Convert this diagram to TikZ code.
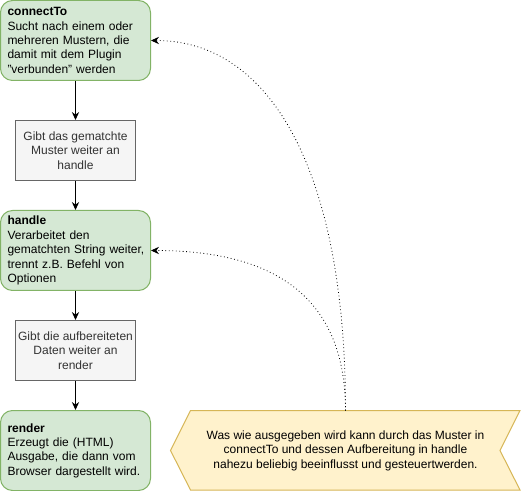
\documentclass[tikz,border=0pt]{standalone}
\usepackage{fontspec}
\setmainfont{Liberation Sans}
\usetikzlibrary{arrows.meta}
\definecolor{stagefill}{HTML}{D5E8D4}
\definecolor{stagedraw}{HTML}{82B366}
\definecolor{passfill}{HTML}{F5F5F5}
\definecolor{passdraw}{HTML}{666666}
\definecolor{passtext}{HTML}{333333}
\definecolor{notefill}{HTML}{FFF2CC}
\definecolor{notedraw}{HTML}{D6B656}
\begin{document}
\begin{tikzpicture}[x=0.75pt,y=0.75pt,yscale=-1,xscale=1,
  every node/.style={font=\fontsize{9}{10.8}\selectfont},
  stagebox/.style={draw=stagedraw,fill=stagefill,line width=0.75pt,rounded corners=9pt,
    minimum width=112.5pt,minimum height=60pt,text width=105pt,inner xsep=3.75pt,align=left},
  passbox/.style={draw=passdraw,fill=passfill,line width=0.75pt,text=passtext,
    minimum width=90pt,minimum height=45pt,align=center,inner sep=1pt},
  flowarrow/.style={line width=0.75pt,-{Stealth[length=6pt,width=5.5pt,inset=2pt]}},
  hintarrow/.style={line width=0.6pt,dotted,-{Stealth[length=6pt,width=5.5pt,inset=2pt]}}]
\useasboundingbox (0,0) rectangle (521,491);

% Stages
\node[stagebox] (connectTo) at (75.5,40.5) {\hspace*{1.5pt}\textbf{connectTo}\\\hspace*{1.5pt}Sucht nach einem oder\\\hspace*{1.5pt}mehreren Mustern, die\\\hspace*{1.5pt}damit mit dem Plugin\\\hspace*{1.5pt}"verbunden" werden};
\node[passbox] (passMatch) at (75.5,150.5) {Gibt das gematchte\\Muster weiter an\\handle};
\node[stagebox] (handle) at (75.5,250.5) {\hspace*{1.5pt}\textbf{handle}\\\hspace*{1.5pt}Verarbeitet den\\\hspace*{1.5pt}gematchten String weiter,\\\hspace*{1.5pt}trennt z.B. Befehl von\\\hspace*{1.5pt}Optionen};
\node[passbox] (passData) at (75.5,350.5) {Gibt die aufbereiteten\\Daten weiter an\\render};
\node[stagebox] (render) at (75.5,450.5) {\hspace*{1.5pt}\textbf{render}\\\hspace*{1.5pt}Erzeugt die (HTML)\\\hspace*{1.5pt}Ausgabe, die dann vom\\\hspace*{1.5pt}Browser dargestellt wird.};

% Note
\draw[draw=notedraw,fill=notefill,line width=0.75pt] (190.5,410.5) -- (520,410.5) -- (500,450.5) -- (520,490) -- (190.5,490) -- (170.5,450.5) -- cycle;
\node[align=center] (note) at (345.5,450.5) {Was wie ausgegeben wird kann durch das Muster in\\connectTo und dessen Aufbereitung in handle\\nahezu beliebig beeinflusst und gesteuertwerden.};
\coordinate (noteTop) at (345.5,410.5);

% Flow
\draw[flowarrow] (connectTo) -- (passMatch);
\draw[flowarrow] (passMatch) -- (handle);
\draw[flowarrow] (handle) -- (passData);
\draw[flowarrow] (passData) -- (render);

% Hints
\draw[hintarrow] (noteTop) .. controls (345.5,170) and (270,40.5) .. (connectTo.east);
\draw[hintarrow] (noteTop) .. controls (345.5,290) and (265,250.5) .. (handle.east);

\end{tikzpicture}
\end{document}
